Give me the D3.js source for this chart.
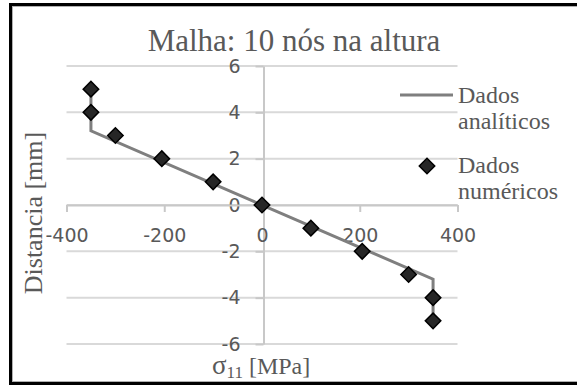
<!DOCTYPE html>
<html>
<head>
  <meta charset="utf-8">
  <script src="https://d3js.org/d3.v7.min.js"></script>
  <style>
    body { margin: 0; background: #fff; }
    svg text { fill: #595959; }
    .serif { font-family: "Liberation Serif", "DejaVu Serif", serif; }
    .tick text { font-family: "DejaVu Sans", sans-serif; font-size: 19px; fill: #595959; }
  </style>
</head>
<body>
<script>
  // curva analitica (tensao x distancia)
  var sigmaAnalitico = [-350, -350, 350, 350];
  var distAnalitico = [5, 3.2, -3.2, -5];

  // pontos numericos
  var sigmaNumerico = [-350, -350, -300, -205, -100, 0, 100, 205, 300, 350, 350];
  var distNumerico = [5, 4, 3, 2, 1, 0, -1, -2, -3, -4, -5];

  var xTicks = [-400, -200, 0, 200, 400];
  var yTicks = [-6, -4, -2, 0, 2, 4, 6];

  var W = 577, H = 385;

  var svg = d3.select("body").append("svg")
    .attr("width", W)
    .attr("height", H);

  svg.append("rect").attr("width", W).attr("height", H).attr("fill", "#fff");

  // moldura
  svg.append("rect")
    .attr("x", 12.5).attr("y", 6.5)
    .attr("width", 600).attr("height", 375)
    .attr("fill", "none").attr("stroke", "#b0b0b0").attr("stroke-width", 1);
  svg.append("rect")
    .attr("x", 10.5).attr("y", 4.5)
    .attr("width", 600).attr("height", 379)
    .attr("fill", "none").attr("stroke", "#000").attr("stroke-width", 3);

  var x = d3.scaleLinear().domain([-400, 400]).range([66.5, 457.5]);
  var y = d3.scaleLinear().domain([-6, 6]).range([344, 66]);

  // hifen simples como no original
  var fmt = function(d) { return String(d); };

  // grade horizontal
  svg.append("g").selectAll("line")
    .data(yTicks)
    .enter().append("line")
    .attr("x1", x(-400)).attr("x2", x(400))
    .attr("y1", function(d) { return y(d); })
    .attr("y2", function(d) { return y(d); })
    .attr("stroke", "#d9d9d9").attr("stroke-width", 2);

  // eixo y passando pelo zero
  var yAxis = svg.append("g")
    .attr("transform", "translate(" + (x(0) + 1.5) + ",0)")
    .call(d3.axisLeft(y).tickValues(yTicks).tickFormat(fmt).tickSize(8).tickPadding(15).tickSizeOuter(0));
  yAxis.select(".domain").attr("stroke", "#c8c8c8").attr("stroke-width", 2);
  yAxis.selectAll(".tick line").attr("stroke", "#c8c8c8").attr("stroke-width", 2);

  // eixo x passando pelo zero
  var xAxis = svg.append("g")
    .attr("transform", "translate(0," + y(0) + ")")
    .call(d3.axisBottom(x).tickValues(xTicks).tickFormat(fmt).tickSize(7).tickPadding(17).tickSizeOuter(0));
  xAxis.select(".domain").attr("stroke", "#c8c8c8").attr("stroke-width", 2);
  xAxis.selectAll(".tick line").attr("stroke", "#c8c8c8").attr("stroke-width", 2);

  // linha analitica
  var analitico = sigmaAnalitico.map(function(s, i) { return [s, distAnalitico[i]]; });
  var line = d3.line()
    .x(function(d) { return x(d[0]); })
    .y(function(d) { return y(d[1]); });
  svg.append("path")
    .datum(analitico)
    .attr("d", line)
    .attr("fill", "none")
    .attr("stroke", "#7f7f7f")
    .attr("stroke-width", 3);

  // marcadores numericos (losango)
  var numerico = sigmaNumerico.map(function(s, i) { return [s, distNumerico[i]]; });
  var diamond = d3.symbol().type(d3.symbolSquare).size(120);
  svg.append("g").selectAll("path")
    .data(numerico)
    .enter().append("path")
    .attr("d", diamond)
    .attr("transform", function(d) { return "translate(" + x(d[0]) + "," + y(d[1]) + ") rotate(45)"; })
    .attr("fill", "#262626")
    .attr("stroke", "#000")
    .attr("stroke-width", 1.5);

  // titulo
  svg.append("text")
    .attr("class", "serif")
    .attr("x", 294).attr("y", 51)
    .attr("text-anchor", "middle")
    .style("font-size", "31px")
    .text("Malha: 10 nós na altura");

  // titulo eixo y
  svg.append("text")
    .attr("class", "serif")
    .attr("transform", "translate(42,213) rotate(-90)")
    .attr("text-anchor", "middle")
    .style("font-size", "26px")
    .text("Distancia [mm]");

  // titulo eixo x
  var xt = svg.append("text")
    .attr("class", "serif")
    .attr("x", 212).attr("y", 374)
    .style("font-size", "24px");
  xt.append("tspan").style("font-size", "27px").text("σ");
  xt.append("tspan").attr("dy", 4).style("font-size", "17px").text("11");
  xt.append("tspan").attr("dy", -4).text(" [MPa]");

  // legenda
  var leg = svg.append("g");
  leg.append("line")
    .attr("x1", 400).attr("x2", 453)
    .attr("y1", 95).attr("y2", 95)
    .attr("stroke", "#7f7f7f").attr("stroke-width", 3);
  leg.append("path")
    .attr("d", diamond)
    .attr("transform", "translate(427,166) rotate(45)")
    .attr("fill", "#262626").attr("stroke", "#000").attr("stroke-width", 1.5);

  var legendas = [["Dados", "analíticos"], ["Dados", "numéricos"]];
  var legY = [103, 173];
  legendas.forEach(function(l, i) {
    var t = leg.append("text")
      .attr("class", "serif")
      .attr("x", 458).attr("y", legY[i])
      .style("font-size", "24px");
    t.append("tspan").attr("x", 458).text(l[0]);
    t.append("tspan").attr("x", 458).attr("dy", 26).text(l[1]);
  });
</script>
</body>
</html>
